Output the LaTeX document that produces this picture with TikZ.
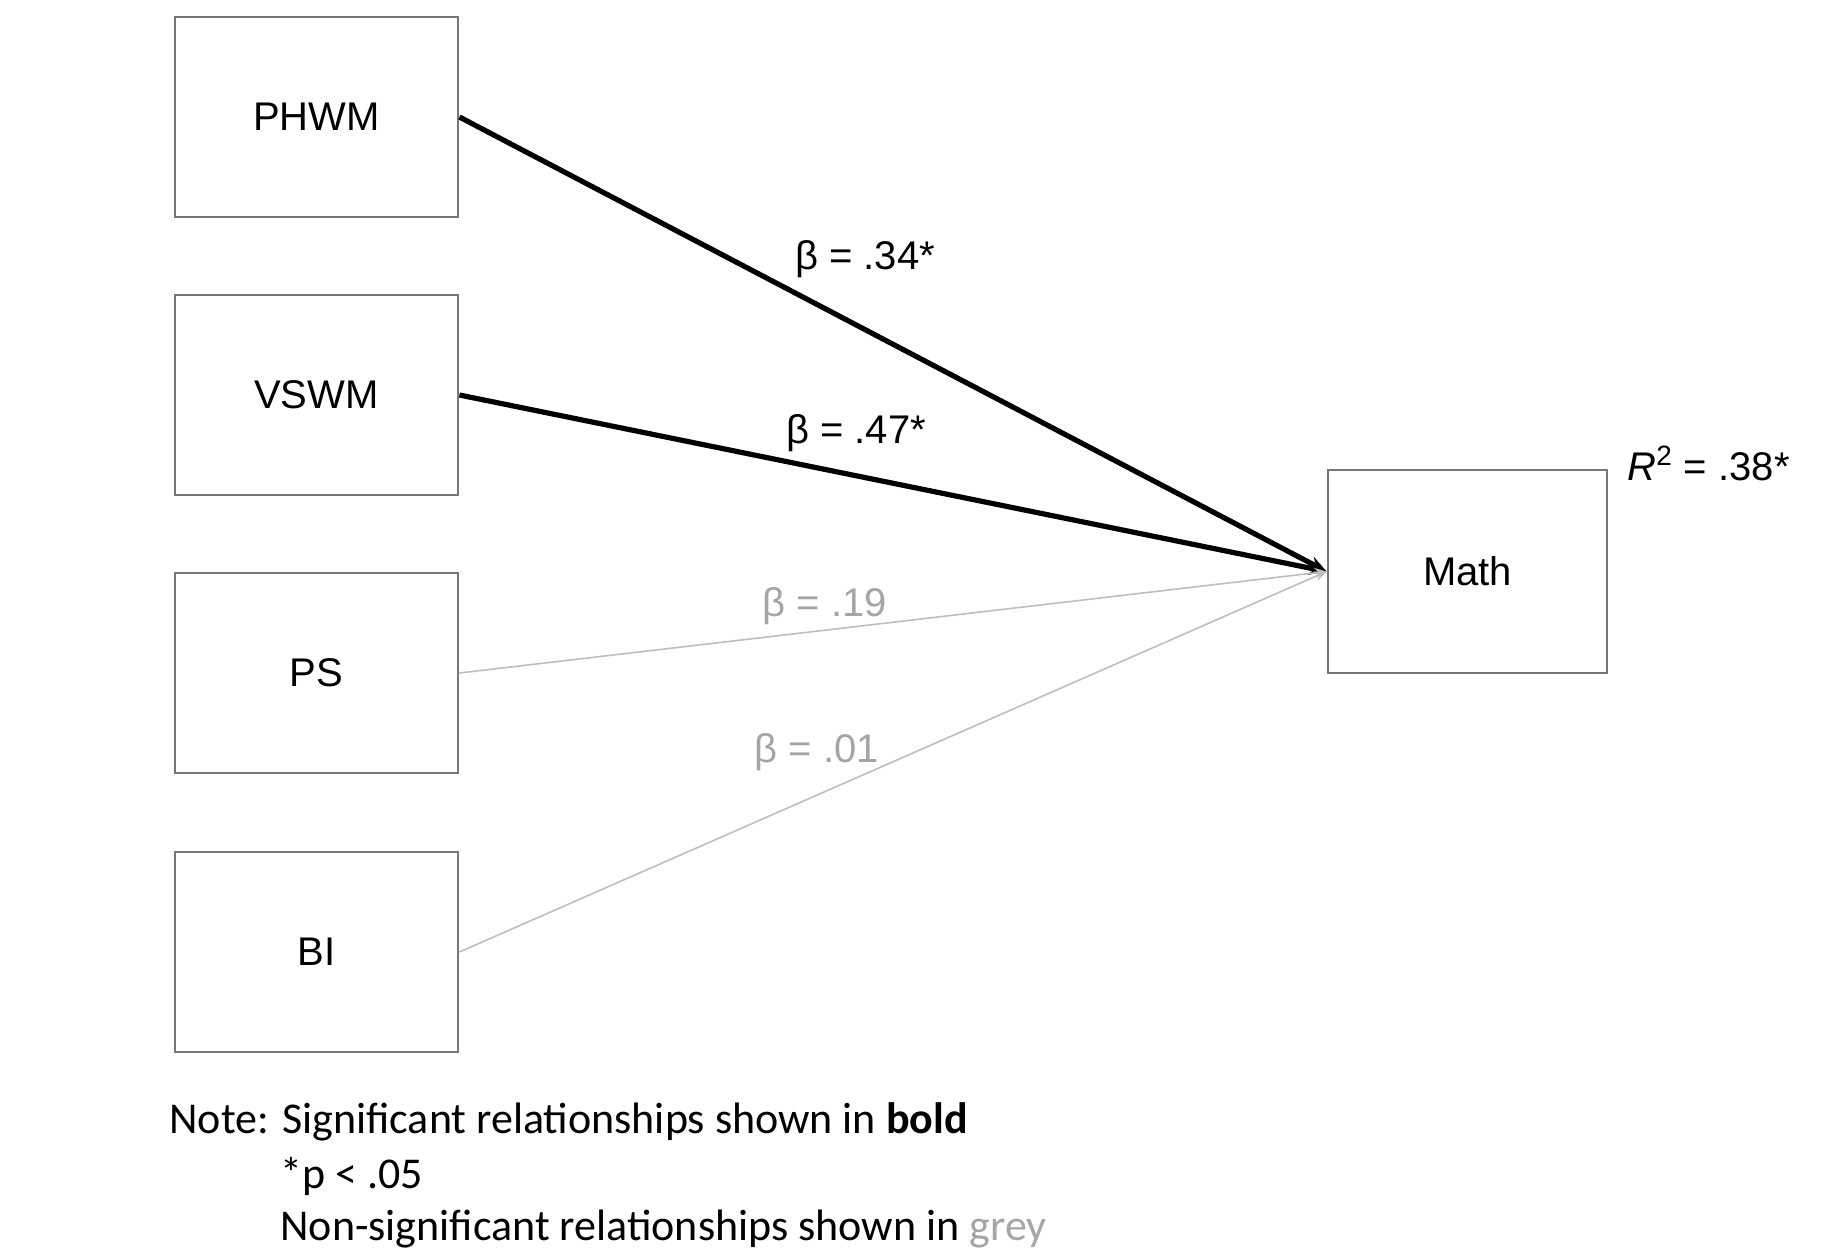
\documentclass[tikz,border=0pt]{standalone}
\usepackage{fontspec}
\setmainfont{Liberation Sans}
\newfontfamily\notefont{Carlito}
\usetikzlibrary{arrows.meta}
\definecolor{boxgrey}{RGB}{120,120,120}
\definecolor{nsgrey}{RGB}{190,190,190}
\definecolor{nstext}{RGB}{165,165,165}
\begin{document}
\begin{tikzpicture}[x=0.5pt,y=-0.5pt,
  varbox/.style={draw=boxgrey,line width=1.4pt,minimum width=141.5pt,minimum height=100pt,inner sep=0pt,font=\fontsize{20}{23}\selectfont},
  sigarrow/.style={line width=2.6pt,-{Stealth[length=9pt,width=7pt]}},
  nsarrow/.style={draw=nsgrey,line width=0.8pt,-{Stealth[length=6pt,width=5pt]}},
  siglabel/.style={font=\fontsize{20}{23}\selectfont,inner sep=0pt},
  nslabel/.style={font=\fontsize{20}{23}\selectfont,text=nstext,inner sep=0pt},
  notetext/.style={font=\notefont\fontsize{22}{25}\selectfont,anchor=west,inner sep=0pt}]
\useasboundingbox (0,0) rectangle (1827,1258);
\node[varbox] (phwm) at (316.5,117) {PHWM};
\node[varbox] (vswm) at (316.5,395) {VSWM};
\node[varbox] (ps) at (316.5,673) {PS};
\node[varbox] (bi) at (316.5,952) {BI};
\node[varbox,minimum width=139.5pt,minimum height=101.5pt] (math) at (1467.5,571.5) {Math};
\node[siglabel,anchor=west] (r2) at (1627,463) {\textit{R}\textsuperscript{2} = .38*};
\draw[sigarrow] (phwm.east) -- (math.west);
\draw[sigarrow] (vswm.east) -- (math.west);
\draw[nsarrow] (ps.east) -- (math.west);
\draw[nsarrow] (bi.east) -- (math.west);
\node[siglabel] (l34) at (865,259) {β = .34*};
\node[siglabel] (l47) at (856,433) {β = .47*};
\node[nslabel] (l19) at (825,606) {β = .19};
\node[nslabel] (l01) at (817,752) {β = .01};
\node[notetext] (n1) at (169,1122) {Note: Significant relationships shown in \textbf{bold}};
\node[notetext] (n2) at (280,1176) {*p \textless{} .05};
\node[notetext] (n3) at (280,1229) {Non-significant relationships shown in \textcolor{nstext}{grey}};
\end{tikzpicture}
\end{document}
